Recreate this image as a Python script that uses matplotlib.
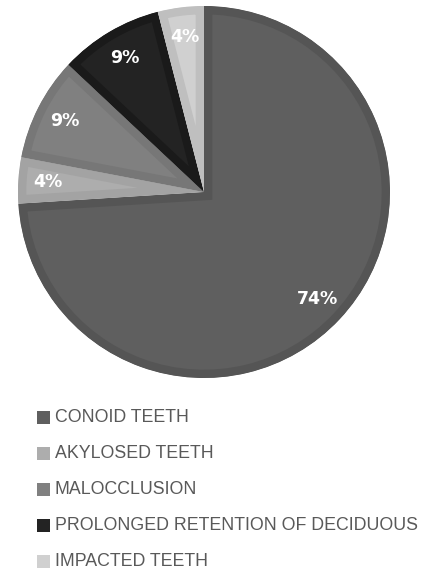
import matplotlib
matplotlib.use("Agg")
import matplotlib.pyplot as plt
from matplotlib.patches import Rectangle

labels = ["CONOID TEETH", "AKYLOSED TEETH", "MALOCCLUSION",
          "PROLONGED RETENTION OF DECIDUOUS", "IMPACTED TEETH"]
values = [74, 4, 9, 9, 4]
fills = ["#5f5f5f", "#adadad", "#808080", "#232323", "#d0d0d0"]
bevels = ["#555555", "#a3a3a3", "#777777", "#1a1a1a", "#bfbfbf"]

W, H = 421, 569
fig = plt.figure(figsize=(W / 100, H / 100), dpi=100)
fig.patch.set_facecolor("white")

# pie axes: centre (204,192) px, radius 186 px
cx, cy, r = 204, 192, 186
ax = fig.add_axes([(cx - r) / W, (H - cy - r) / H, 2 * r / W, 2 * r / H])
wedges, texts, autotexts = ax.pie(
    values, colors=fills, startangle=90, counterclock=False,
    autopct="%d%%", pctdistance=0.84,
    textprops=dict(color="white", fontsize=12.5, fontweight="bold"))
ax.set_xlim(-1, 1)
ax.set_ylim(-1, 1)
ax.set_aspect("equal")
ax.axis("off")

# inner bevel band: thick edge clipped to the wedge itself
for w, b in zip(wedges, bevels):
    w.set_edgecolor(b)
    w.set_linewidth(12)
    w.set_joinstyle("miter")
    w.set_clip_on(True)
    w.set_clip_path(w)

# legend, drawn by hand
y0, dy = 417, 36.2
for i, (lab, col) in enumerate(zip(labels, fills)):
    y = y0 + i * dy
    fig.patches.append(Rectangle((37 / W, 1 - (y + 6.5) / H), 13 / W, 13 / H,
                                 transform=fig.transFigure, facecolor=col,
                                 edgecolor="none"))
    fig.text(55 / W, 1 - y / H, lab, fontsize=12.8, color="#595959",
             family="Liberation Sans", va="center", ha="left")

fig.savefig("out.png", dpi=100)
